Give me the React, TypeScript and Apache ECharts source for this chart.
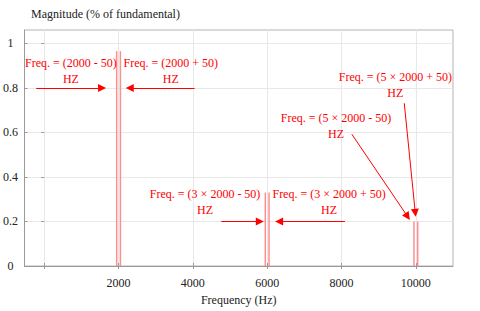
import React, { useEffect, useRef } from "react";
import * as echarts from "echarts";

// Spectrum lines: [frequency (Hz), magnitude]
const harmonicFreqs = [1950, 2050, 5950, 6050, 9950, 10050];
const harmonicMags = [0.965, 0.965, 0.33, 0.33, 0.2, 0.2];

const xLabelValues = [2000, 4000, 6000, 8000, 10000];
const xTickValues = [0, 2000, 4000, 6000, 8000, 10000];
const yTickValues = [0, 0.2, 0.4, 0.6, 0.8, 1];

const yAxisTitle = "Magnitude (% of fundamental)";
const xAxisTitle = "Frequency (Hz)";

// Annotation texts and their centres (data coordinates)
const noteTexts = [
  "Freq. = (2000 - 50)\nHZ",
  "Freq. = (2000 + 50)\nHZ",
  "Freq. = (5 × 2000 + 50)\nHZ",
  "Freq. = (5 × 2000 - 50)\nHZ",
  "Freq. = (3 × 2000 - 50)\nHZ",
  "Freq. = (3 × 2000 + 50)\nHZ",
];
const noteX = [719, 3407, 9449, 7852, 4330, 7666];
const noteY = [0.875, 0.875, 0.814, 0.628, 0.286, 0.286];

// Arrows: start [x, y] -> end [x, y]
const arrowStart = [
  [-213, 0.8],
  [4046, 0.8],
  [9689, 0.731],
  [8278, 0.592],
  [4764, 0.2],
  [8092, 0.2],
];
const arrowEnd = [
  [1557, 0.8],
  [2302, 0.8],
  [9985, 0.239],
  [9779, 0.222],
  [5802, 0.2],
  [6321, 0.2],
];

const FONT = "'Liberation Serif', 'Times New Roman', serif";
const AXIS_COLOR = "#9a9a9a";

export default function App() {
  const ref = useRef<HTMLDivElement>(null);
  useEffect(() => {
    if (!ref.current) return;
    const chart = echarts.init(ref.current, null, { renderer: "svg" });
    const tick = (values: number[]) => ({
      show: true,
      inside: true,
      length: 3,
      customValues: values,
      lineStyle: { color: AXIS_COLOR },
    });
    chart.setOption({
      animation: false,
      backgroundColor: "#ffffff",
      title: {
        text: yAxisTitle,
        left: 31,
        top: 8,
        padding: 0,
        textStyle: {
          fontFamily: FONT,
          fontSize: 12,
          fontWeight: "normal",
          color: "#222",
        },
      },
      grid: {
        left: 20,
        top: 30,
        right: 27,
        bottom: 45,
        show: true,
        borderColor: "#b4b4b4",
        borderWidth: 1,
      },
      xAxis: [
        {
          type: "value",
          min: -530,
          max: 11000,
          name: xAxisTitle,
          nameLocation: "middle",
          nameGap: 28,
          nameTextStyle: { fontFamily: FONT, fontSize: 12, color: "#222" },
          axisLine: { show: true, onZero: false, lineStyle: { color: AXIS_COLOR, width: 1 } },
          axisTick: tick(xTickValues),
          axisLabel: {
            customValues: xLabelValues,
            fontFamily: FONT,
            fontSize: 12,
            color: "#222",
            margin: 11,
            formatter: (v: number) => String(v),
          },
          splitLine: { show: true, lineStyle: { color: "#e8e8e8", width: 1 } },
        },
        {
          type: "value",
          position: "top",
          min: -530,
          max: 11000,
          axisLine: { show: false },
          axisTick: tick(xTickValues),
          axisLabel: { show: false },
          splitLine: { show: false },
        },
      ],
      yAxis: [
        {
          type: "value",
          min: 0,
          max: 1.06,
          axisLine: { show: true, onZero: false, lineStyle: { color: AXIS_COLOR, width: 1 } },
          axisTick: tick(yTickValues),
          axisLabel: {
            customValues: yTickValues,
            fontFamily: FONT,
            fontSize: 12,
            color: "#222",
            align: "center",
            margin: 14,
            formatter: (v: number) => String(Math.round(v * 10) / 10),
          },
          splitLine: { show: true, lineStyle: { color: "#e8e8e8", width: 1 } },
        },
        {
          type: "value",
          position: "right",
          min: 0,
          max: 1.06,
          axisLine: { show: false },
          axisTick: tick(yTickValues),
          axisLabel: { show: false },
          splitLine: { show: false },
        },
      ],
      series: [
        {
          type: "bar",
          barWidth: 1.5,
          itemStyle: { color: "#ff8f8f" },
          data: harmonicFreqs.map((f, i) => [f, harmonicMags[i]]),
          silent: true,
          markLine: {
            silent: true,
            symbol: ["none", "triangle"],
            symbolSize: [8, 8],
            label: { show: false },
            lineStyle: { color: "#ff0000", width: 1, type: "solid" },
            emphasis: { disabled: true },
            data: arrowStart.map((s, i) => [
              { coord: s },
              { coord: arrowEnd[i] },
            ]),
          },
        },
        {
          type: "scatter",
          silent: true,
          symbolSize: 0,
          itemStyle: { color: "#ff0000", opacity: 0 },
          data: noteX.map((x, i) => [x, noteY[i]]),
          label: {
            show: true,
            position: "inside",
            fontFamily: FONT,
            fontSize: 12,
            lineHeight: 16,
            color: "#ff0000",
            opacity: 1,
            align: "center",
            verticalAlign: "middle",
            formatter: (p: any) => noteTexts[p.dataIndex],
          },
        },
      ],
    });
    return () => chart.dispose();
  }, []);
  return <div ref={ref} style={{ width: 480, height: 311, position: "absolute", left: 0, top: 0 }} />;
}
